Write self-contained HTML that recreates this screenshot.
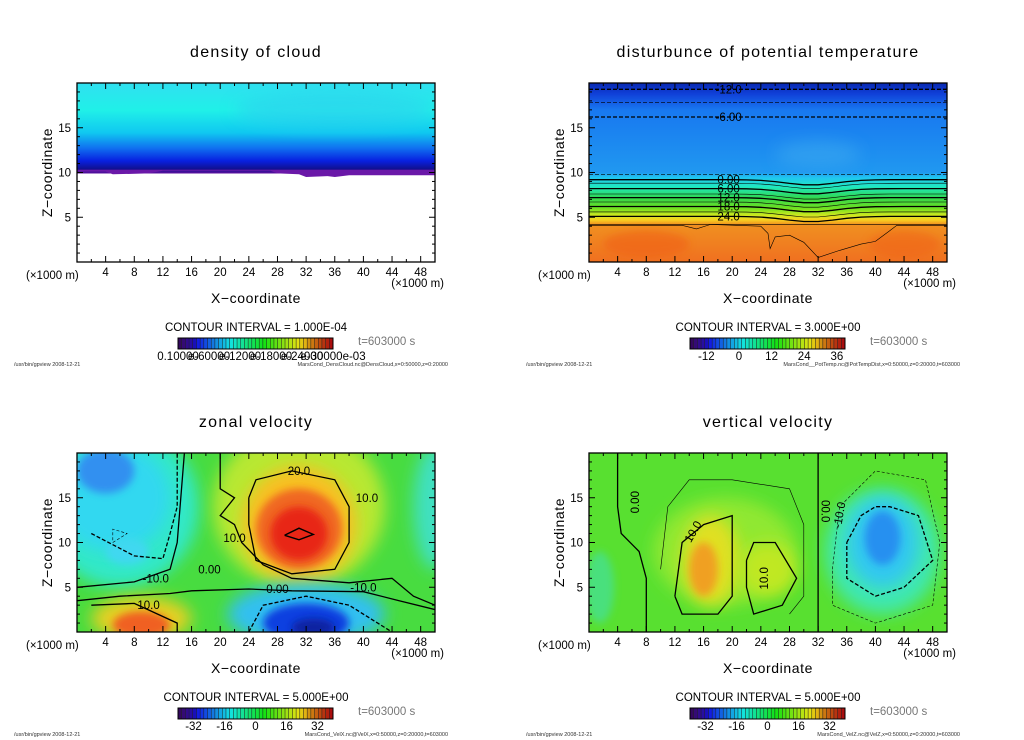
<!DOCTYPE html>
<html><head><meta charset="utf-8"><style>
html,body{margin:0;padding:0;background:#fff;}
svg{display:block;font-family:"Liberation Sans",sans-serif;}
</style></head><body>
<svg id="s" width="1024" height="740" viewBox="0 0 1024 740" xmlns="http://www.w3.org/2000/svg">
<defs>
<filter id="b8" x="-50%" y="-50%" width="200%" height="200%"><feGaussianBlur stdDeviation="8"/></filter>
<filter id="b4" x="-50%" y="-50%" width="200%" height="200%"><feGaussianBlur stdDeviation="4"/></filter>
<clipPath id="cp"><rect x="0" y="0" width="358" height="179"/></clipPath>
<linearGradient id="g1" x1="0" y1="0" x2="0" y2="1">
<stop offset="0" stop-color="#30e0f0"/><stop offset="0.3" stop-color="#20f0e8"/><stop offset="0.55" stop-color="#10c8f0"/><stop offset="0.72" stop-color="#1070f0"/><stop offset="0.86" stop-color="#0820e0"/><stop offset="0.95" stop-color="#101090"/><stop offset="1" stop-color="#6010a0"/>
</linearGradient>
<linearGradient id="g2" x1="0" y1="0" x2="0" y2="1">
<stop offset="0" stop-color="#0828b0"/><stop offset="0.06" stop-color="#1040d8"/><stop offset="0.15" stop-color="#1878f0"/><stop offset="0.5" stop-color="#2098f0"/><stop offset="0.53" stop-color="#20c8f0"/><stop offset="0.58" stop-color="#20e8c0"/><stop offset="0.64" stop-color="#30d850"/><stop offset="0.7" stop-color="#70e020"/><stop offset="0.74" stop-color="#d0e820"/><stop offset="0.765" stop-color="#f8d020"/><stop offset="0.79" stop-color="#f09020"/><stop offset="1" stop-color="#f07020"/>
</linearGradient>
</defs>
<g id="root"></g>
</svg>
<script>
const xTicks=[4,8,12,16,20,24,28,32,36,40,44,48];
const zTicks=[5,10,15];
const xMax=50, zMax=20;
const potLevels=[-12,-9,-6,-3,0,3,6,9,12,15,18,21,24,27];
const potHeights=[19.3,17.8,16.2,9.8,9.2,8.8,8.2,7.6,7.2,6.7,6.2,5.6,5.1,4.2];
const potLabels=['-12.0','','-6.00','','0.00','','6.00','','12.0','','18.0','','24.0',''];
const cb1Labels=['0.10000','e-60000','e-12000','e-18000','e-24000','e-30000e-03'];
const cb2Labels=['-12','0','12','24','36'];
const cb2Pos=[-12,0,12,24,36];
const cbVelLabels=['-32','-16','0','16','32'];
const cbVelPos=[-32,-16,0,16,32];

const NS='http://www.w3.org/2000/svg';
const root=document.getElementById('root');
function el(tag,attrs,parent){const e=document.createElementNS(NS,tag);for(const k in attrs)e.setAttribute(k,attrs[k]);(parent||root).appendChild(e);return e;}
function txt(s,attrs,parent){const e=el('text',attrs,parent);e.textContent=s;return e;}
const W=358,H=179;
const sx=x=>x/xMax*W, sz=z=>H-z/zMax*H;
function path(pts){return pts.map((p,i)=>(i?'L':'M')+sx(p[0]).toFixed(1)+','+sz(p[1]).toFixed(1)).join(' ');}
function line(pts,g,opts){const p=el('path',{d:path(pts),fill:'none',stroke:'#000','stroke-width':opts.w||1,'stroke-dasharray':opts.d||'none'},g);return p;}
function blob(g,x,z,rx,rz,col,f,op){const e=el('ellipse',{cx:sx(x),cy:sz(z),rx:rx/xMax*W,ry:rz/zMax*H,fill:col,filter:'url(#'+(f||'b8')+')',opacity:op||1},g);return e;}

function panel(ox,oy,title,cbLabels,cbPos,cbMin,cbMax,interval,fname){
  const P=el('g',{transform:`translate(${ox},${oy})`});
  
  const t=txt(title,{x:179,y:-26,'text-anchor':'middle','font-size':16,'letter-spacing':'1.3'},P);
  
  const area=el('g',{'clip-path':'url(#cp)'},P);
  
  const frame=el('rect',{x:0,y:0,width:W,height:H,fill:'none',stroke:'#000','stroke-width':1.3},P);
  
  for(let x=2;x<50;x+=2){const major=xTicks.includes(x);const L=major?6:3;
    for(const [y0,d] of [[H,-1],[0,1]]){const k=el('line',{x1:sx(x),x2:sx(x),y1:y0,y2:y0+d*L,stroke:'#000'},P);}}
  for(let z=1;z<20;z++){const major=zTicks.includes(z);const L=major?6:3;
    for(const [x0,d] of [[0,1],[W,-1]]){const k=el('line',{x1:x0,x2:x0+d*L,y1:sz(z),y2:sz(z),stroke:'#000'},P);}}
  xTicks.forEach(x=>{const l=txt(String(x),{x:sx(x),y:H+14,'text-anchor':'middle','font-size':11.5},P);});
  zTicks.forEach(z=>{const l=txt(String(z),{x:-6,y:sz(z)+4,'text-anchor':'end','font-size':11.5},P);});
  let u=txt('(×1000 m)',{x:-51,y:H+17,'font-size':11.5},P);
  u=txt('(×1000 m)',{x:W+9,y:H+25,'text-anchor':'end','font-size':11.5},P);
  u=txt('X−coordinate',{x:179,y:H+41,'text-anchor':'middle','font-size':14,'letter-spacing':'0.6'},P);
  u=txt('Z−coordinate',{x:0,y:0,'text-anchor':'middle','font-size':14,'letter-spacing':'0.6',transform:`translate(-25,${H/2}) rotate(-90)`},P);
  u=txt('CONTOUR INTERVAL = '+interval,{x:179,y:H+69,'text-anchor':'middle','font-size':11.5},P);
  u=txt('t=603000 s',{x:281,y:H+83,'font-size':11.5,fill:'#777'},P);
  const cb=el('g',{transform:`translate(101,${H+76})`},P);
  const n=42,cw=155/n;
  for(let i=0;i<n;i++){const f=i/(n-1);const hue=270-f*270;const light=f<0.1?20+f*200:(f>0.85?45-(f-0.85)*60:48);
    const r=el('rect',{x:i*cw,y:0,width:cw+0.2,height:11,fill:`hsl(${hue},85%,${light}%)`,stroke:'#222','stroke-width':0.5},cb);
    }
  el('rect',{x:0,y:0,width:155,height:11,fill:'none',stroke:'#000'},cb);
  cbLabels.forEach((s,i)=>{const x=cbPos?(cbPos[i]-cbMin)/(cbMax-cbMin)*155:i*155/(cbLabels.length-1);
    const l=txt(s,{x:x,y:22,'text-anchor':'middle','font-size':11.5},cb);});
  u=txt('/usr/bin/gpview   2008-12-21',{x:-63,y:H+104,'font-size':5.5,fill:'#333'},P);
  u=txt(fname,{x:371,y:H+104,'text-anchor':'end','font-size':5.5,fill:'#333'},P);
  return area;
}

let A=panel(77,83,'density of cloud',cb1Labels,null,0,1,'1.000E-04','MarsCond_DensCloud.nc@DensCloud,x=0:50000,z=0:20000');
el('rect',{x:0,y:0,width:W,height:sz(10)+1,fill:'url(#g1)'},A);
blob(A,36,17,14,2,'#30c8f0','b8',0.5);
el('path',{d:path([[0,10.1],[4,10.1],[5,9.8],[10,9.9],[12,10.2],[27,10.2],[28,9.9],[31,9.8],[32,9.5],[35,9.6],[36,9.5],[38,9.7],[50,9.7],[50,10.3],[0,10.3]]),fill:'#6a18a8'},A);

A=panel(589,83,'disturbunce of potential temperature',cb2Labels,cb2Pos,-18,39,'3.000E+00','MarsCond__PotTemp.nc@PotTempDist,x=0:50000,z=0:20000,t=603000');
el('rect',{x:0,y:0,width:W,height:H,fill:'url(#g2)'},A);
blob(A,8,2,6,1.5,'#f06018','b4',0.6);blob(A,44,2,5,1.5,'#f06018','b4',0.5);blob(A,32,12,6,1.5,'#3aa8f0','b8',0.6);
potHeights.forEach((h,i)=>{const neg=potLevels[i]<0||i==3;const bold=potLevels[i]%6===0;
  const pts=[];for(let x=0;x<=50;x+=2){const dip=(potLevels[i]>=0&&i<13)?-0.6*Math.exp(-Math.pow((x-31)/5,2)):0;pts.push([x,h+dip]);}
  line(pts,A,{w:bold?1.3:0.6,d:neg?'4,2':'none',name:'isotherm-'+potLevels[i]});
  if(potLabels[i]){const x=sx(19.5),y=sz(h)+4;
    const l=txt(potLabels[i],{x:x,y:y,'text-anchor':'middle','font-size':11.5},A);}
});
line([[0,4.1],[13,4.1],[15,3.7],[17,4.2],[24,4.0],[25,3.2],[25.3,1.5],[26,2.8],[28,3.0],[30,2.2],[32,0.5],[35,1.3],[38,2],[40,2.3],[42,3.5],[43,4.1],[50,4.1]],A,{w:0.6,name:'isotherm-27-detail'});

A=panel(77,453,'zonal velocity',cbVelLabels,cbVelPos,-40,40,'5.000E+00','MarsCond_VelX.nc@VelX,x=0:50000,z=0:20000,t=603000');
el('rect',{x:0,y:0,width:W,height:H,fill:'#48dc40'},A);
blob(A,6,14,11,9,'#30e8c8');blob(A,5,15,8,6,'#30d8f0');blob(A,4,18,4,2.5,'#3090f0','b4');blob(A,7,9,3,1.5,'#40d8f0','b4');
blob(A,50,14,3,7,'#40e0c0');
blob(A,31,14,12,9,'#b8e830');blob(A,31,12,8,6.5,'#f8c020');blob(A,31,11.5,6,4.5,'#f06820','b4');blob(A,31,11,4,3,'#e82818','b4');
blob(A,32,2,11,3.5,'#30c0f0');blob(A,32,1,6,2.2,'#1040e0','b4');blob(A,33,0.5,3,1,'#1020a0','b4');
blob(A,9,1.5,7,2.5,'#e8d020');blob(A,9,0.8,4,1.5,'#f06020','b4');
line([[20,20],[20,16],[22,15],[20,13],[22,12],[23,10],[26,7.5],[30,6],[38,5.5],[44,6],[47,4],[50,3]],A,{w:1.3,name:'contour-10'});
line([[24,15],[25,17],[30,18],[36,17],[38,14],[38,10],[36,7],[30,6.5],[25,8],[24,12],[24,15]],A,{w:1.3,name:'contour-20'});
line([[29,10.8],[31,11.6],[33,10.9],[31,10.3],[29,10.8]],A,{w:1.4,name:'contour-30'});
line([[0,5],[8,5.6],[13,7],[14,10],[15,20]],A,{w:1.3,name:'contour-0-left'});
line([[0,3.5],[6,4],[13,4.3],[16,4.6],[24,4.8],[30,4.6],[40,4.5],[45,3.5],[50,2.5]],A,{w:1.3,name:'contour-0'});
line([[2,11],[8,8.5],[12,8.2],[13,11],[14,14],[14,20]],A,{w:1.3,d:'4,2',name:'contour-neg10'});
line([[24,0],[26,3],[32,4],[38,3],[42,1],[44,0]],A,{w:1.3,d:'4,2',name:'contour-neg10-bottom'});
line([[2,3],[8,3.2],[14,1],[14,0]],A,{w:1.3,name:'contour-10-bottom'});
line([[5,10],[7,11],[5,11.5],[5,10]],A,{w:0.6,d:'3,2',name:'contour-neg15'});
[['20.0',31,18],['10.0',40.5,15],['10.0',22,10.5],['-10.0',11,6],['0.00',18.5,7],['0.00',28,4.8],['-10.0',40,5],['10.0',10,3]].forEach(a=>{const l=txt(a[0],{x:sx(a[1]),y:sz(a[2])+4,'text-anchor':'middle','font-size':11.5},A);});

A=panel(589,453,'vertical velocity',cbVelLabels,cbVelPos,-40,40,'5.000E+00','MarsCond_VelZ.nc@VelZ,x=0:50000,z=0:20000,t=603000');
el('rect',{x:0,y:0,width:W,height:H,fill:'#58e030'},A);
blob(A,19,9,10,6,'#90e830');blob(A,17,8,4,5,'#e0e020');blob(A,16,7,2,3,'#f0a020','b4');blob(A,25,7,4,3,'#c0e820');
blob(A,41,9,8,7,'#40e8b0');blob(A,41,10,5,5,'#30c8f0');blob(A,41,10.5,2.5,3,'#2890f0','b4');
blob(A,1.5,5,2,4,'#40e0b0','b4',0.6);
line([[4,20],[4,14],[4.5,11],[7,9],[8,6],[8,0]],A,{w:1.3,name:'contour-0-left'});
line([[32,20],[32,0]],A,{w:1.3,name:'contour-0-right'});
line([[12,4],[13,10],[16,12],[20,13],[20,9],[20,4],[18,2],[13,2],[12,4]],A,{w:1.3,name:'contour-10-a'});
line([[22,8],[23,10],[26,10],[29,6],[27,3],[23,2],[22,5],[22,8]],A,{w:1.3,name:'contour-10-b'});
line([[10,7],[11,14],[14,17],[20,17],[28,16],[30,12],[30,4],[28,2]],A,{w:0.6,name:'contour-5'});
line([[36,10],[38,13],[40,14],[42,14],[46,13],[48,8],[44,5],[40,4],[36,6],[36,10]],A,{w:1.3,d:'4,2',name:'contour-neg10'});
line([[34,7],[35,14],[40,18],[47,17],[49,10],[48,3],[40,1],[34,3],[34,7]],A,{w:0.6,d:'3,2',name:'contour-neg5'});
[['0.00',7,14.5,-90],['00.0',32.5,13.5,90],['10.0',15,11,-60],['10.0',25,6,-90],['-10.0',35.5,13,-80]].forEach(a=>{const l=txt(a[0],{x:0,y:0,'text-anchor':'middle','font-size':11.5,transform:`translate(${sx(a[1])},${sz(a[2])}) rotate(${a[3]})`},A);});
</script>
</body></html>
